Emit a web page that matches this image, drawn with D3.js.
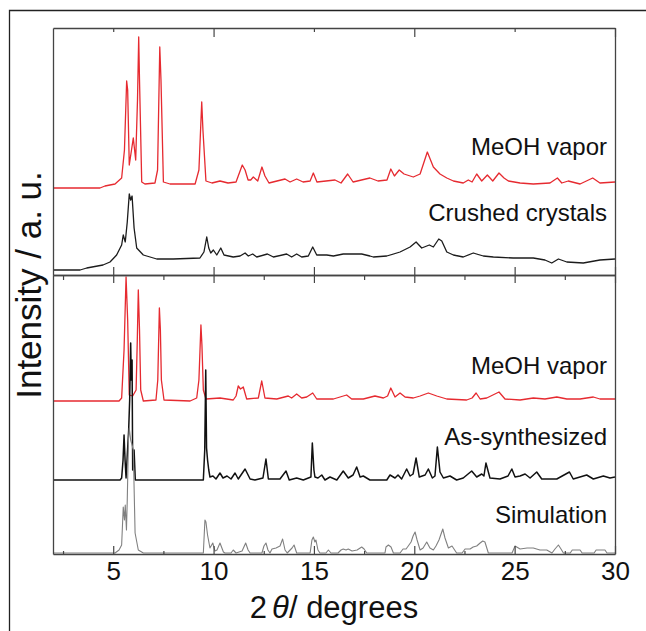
<!DOCTYPE html>
<html>
<head>
<meta charset="utf-8">
<script src="https://cdn.jsdelivr.net/npm/d3@7"></script>
<style>
  body { margin: 0; background: #fff; }
  text { font-family: "Liberation Sans", Arial, sans-serif; fill: #111; }
</style>
</head>
<body>
<script>
// [2theta, intensity], each trace relative to its own baseline
const meohUpper = [[2.00,0],[4.34,0],[4.59,2],[5.09,4],[5.42,10],[5.56,38],[5.67,107],[5.72,98],[5.80,23],[6.00,50],[6.12,28],[6.21,88],[6.27,151],[6.31,108],[6.42,6],[6.58,4],[7.08,5],[7.21,18],[7.32,141],[7.38,108],[7.50,6],[7.83,4],[9.08,4],[9.27,18],[9.41,86],[9.47,58],[9.62,7],[9.92,5],[10.32,7],[10.72,5],[11.12,6],[11.43,23],[11.57,18],[11.72,8],[11.85,8],[11.98,11],[12.20,7],[12.41,21],[12.56,12],[12.76,5],[13.56,9],[13.81,6],[14.14,9],[14.46,6],[14.81,7],[14.97,15],[15.15,6],[16.05,8],[16.35,5],[16.68,14],[16.95,6],[17.79,10],[18.19,7],[18.64,8],[18.83,19],[19.01,12],[19.25,18],[19.49,14],[19.95,11],[20.29,14],[20.65,36],[20.95,21],[21.28,14],[21.62,10],[21.95,7],[22.44,5],[22.69,8],[22.88,6],[23.11,14],[23.36,7],[23.64,13],[23.91,7],[24.22,15],[24.47,10],[24.69,7],[25.27,5],[25.93,4],[26.76,5],[27.13,10],[27.35,5],[27.67,7],[28.26,4],[28.89,10],[29.25,5],[30.00,6]];

const crushed = [[2.00,5],[3.35,5],[3.68,7],[4.49,10],[4.84,13],[5.17,20],[5.42,30],[5.50,40],[5.60,33],[5.70,53],[5.80,81],[5.87,75],[5.94,79],[6.04,47],[6.17,27],[6.50,20],[7.17,16],[7.99,16],[9.32,17],[9.52,23],[9.66,38],[9.76,27],[9.86,22],[9.99,25],[10.16,20],[10.36,27],[10.52,20],[10.98,18],[11.32,19],[11.57,22],[11.73,19],[11.95,21],[12.15,18],[12.68,21],[12.98,18],[13.64,21],[13.89,18],[14.14,21],[14.39,18],[14.72,19],[14.94,28],[15.14,20],[15.64,20],[15.97,19],[16.46,21],[16.96,21],[17.38,21],[17.79,19],[17.96,18],[18.63,19],[19.29,23],[19.79,28],[20.09,33],[20.37,27],[20.75,30],[20.95,28],[21.22,36],[21.37,34],[21.62,23],[21.95,20],[22.44,18],[22.94,22],[23.44,19],[23.94,18],[24.93,17],[25.93,17],[26.51,15],[26.85,12],[27.18,16],[27.60,13],[28.42,12],[29.25,15],[30.00,16]];

const meohLower = [[2.00,0],[5.29,0],[5.42,3],[5.54,51],[5.64,124],[5.72,81],[5.80,6],[5.97,5],[6.14,11],[6.20,61],[6.25,111],[6.31,71],[6.37,11],[6.50,0],[7.13,1],[7.22,21],[7.30,93],[7.35,71],[7.40,21],[7.53,1],[8.83,0],[9.16,3],[9.27,21],[9.37,76],[9.42,56],[9.49,11],[9.62,2],[10.32,3],[10.98,1],[11.12,5],[11.23,15],[11.34,12],[11.48,14],[11.65,2],[12.23,3],[12.40,20],[12.56,3],[13.15,2],[13.72,5],[13.89,3],[14.14,7],[14.39,3],[14.64,4],[14.94,8],[15.14,2],[15.97,2],[16.63,6],[16.88,2],[17.46,2],[18.04,5],[18.46,3],[18.67,5],[18.83,13],[19.04,4],[19.29,8],[19.54,4],[19.95,3],[20.29,5],[20.70,8],[21.12,5],[21.62,2],[22.61,1],[22.88,3],[23.08,8],[23.28,2],[23.61,3],[24.22,9],[24.52,2],[25.27,1],[25.93,3],[26.51,2],[27.10,4],[27.60,2],[28.26,2],[28.92,4],[29.25,2],[30.00,2]];

const asSynth = [[2.00,0],[5.34,0],[5.42,2],[5.49,20],[5.54,45],[5.59,20],[5.64,2],[5.70,25],[5.77,50],[5.82,80],[5.87,137],[5.90,100],[5.94,120],[5.97,10],[6.04,30],[6.10,0],[9.49,0],[9.56,30],[9.61,110],[9.65,32],[9.70,20],[9.76,10],[9.82,3],[9.97,4],[10.12,1],[10.32,7],[10.47,2],[10.67,4],[10.87,1],[11.07,7],[11.23,1],[11.57,11],[11.82,1],[12.06,0],[12.46,2],[12.61,21],[12.73,1],[13.31,1],[13.61,9],[13.77,0],[14.14,2],[14.47,0],[14.85,3],[14.92,37],[15.00,10],[15.05,3],[15.20,2],[15.39,5],[15.55,0],[15.80,3],[16.14,0],[16.46,9],[16.71,2],[16.95,5],[17.13,13],[17.30,3],[17.46,4],[17.79,0],[18.63,0],[18.79,5],[19.04,2],[19.19,5],[19.37,1],[19.62,11],[19.79,4],[19.94,6],[20.09,22],[20.25,3],[20.54,5],[20.70,11],[20.90,2],[21.03,4],[21.15,33],[21.28,8],[21.45,2],[21.78,4],[22.11,0],[22.44,2],[22.86,9],[23.11,3],[23.36,6],[23.47,4],[23.57,17],[23.77,2],[24.27,1],[24.67,4],[24.86,11],[25.02,3],[25.27,4],[25.52,6],[25.77,2],[26.10,8],[26.35,1],[27.10,1],[27.73,8],[27.92,1],[28.59,5],[28.92,1],[29.42,4],[29.75,2],[30.00,3]];

const simulation = [[2.00,0],[5.09,0],[5.29,3],[5.42,8],[5.50,46],[5.56,33],[5.60,48],[5.66,23],[5.70,53],[5.76,113],[5.80,125],[5.87,113],[5.94,108],[6.00,103],[6.09,20],[6.25,3],[6.50,0],[9.49,0],[9.57,33],[9.62,31],[9.70,18],[9.82,5],[9.96,10],[10.07,2],[10.17,3],[10.32,10],[10.49,1],[10.57,0],[10.87,0],[10.98,3],[11.12,0],[11.42,2],[11.60,10],[11.72,3],[11.82,0],[12.41,0],[12.51,7],[12.61,10],[12.71,3],[12.81,0],[12.91,4],[13.11,5],[13.31,7],[13.44,14],[13.56,3],[13.67,0],[13.91,5],[14.01,8],[14.14,0],[14.81,0],[14.90,13],[14.97,16],[15.05,11],[15.10,13],[15.20,3],[15.30,0],[15.60,0],[15.72,3],[15.85,0],[16.20,0],[16.35,3],[16.46,4],[16.60,3],[16.71,4],[16.90,2],[17.15,3],[17.38,6],[17.50,4],[17.63,0],[18.54,0],[18.59,6],[18.71,8],[18.84,6],[18.96,0],[19.29,0],[19.44,4],[19.59,4],[19.70,7],[19.84,11],[19.94,17],[20.04,21],[20.14,13],[20.29,3],[20.44,5],[20.62,11],[20.78,5],[20.95,3],[21.08,7],[21.23,13],[21.42,24],[21.53,15],[21.70,5],[21.88,7],[22.11,0],[22.38,0],[22.53,4],[22.78,4],[22.93,6],[23.11,7],[23.28,10],[23.41,12],[23.52,11],[23.69,0],[24.87,0],[25.02,7],[25.27,4],[25.62,5],[25.93,5],[26.26,3],[26.60,3],[26.86,0],[27.01,4],[27.18,8],[27.31,4],[27.43,0],[27.77,0],[27.87,3],[28.26,3],[28.36,0],[28.96,0],[29.06,3],[29.50,3],[29.60,0],[30.00,0]];

const xTicks = [5, 10, 15, 20, 25, 30];
const xMinor = [2.5, 7.5, 12.5, 17.5, 22.5, 27.5];

const W = 646, H = 631;
const pLeft = 53, pRight = 615, pTop = 28, pMid = 275, pBottom = 554;

const svg = d3.select("body").append("svg")
  .attr("width", W)
  .attr("height", H);

// outer frame (only top and left edges visible in the reference)
svg.append("path")
  .attr("d", `M9.5,${H} L9.5,10.5 L${W},10.5`)
  .attr("fill", "none").attr("stroke", "#222").attr("stroke-width", 1.3);

const x = d3.scaleLinear().domain([2, 30]).range([pLeft, pRight]);
const yUp = d3.scaleLinear().domain([0, pMid - pTop]).range([pMid, pTop]);
const yLo = d3.scaleLinear().domain([0, pBottom - pMid]).range([pBottom, pMid]);

function trace(data, y, offset, color, w) {
  const line = d3.line()
    .x(d => x(d[0]))
    .y(d => y(d[1] + offset));
  svg.append("path")
    .datum(data)
    .attr("d", line)
    .attr("fill", "none")
    .attr("stroke", color)
    .attr("stroke-width", w)
    .attr("stroke-linejoin", "round");
}

// upper panel
trace(meohUpper, yUp, 87, "#e62a30", 1.3);
trace(crushed, yUp, 0, "#1c1c1c", 1.3);
// lower panel
trace(meohLower, yLo, 153, "#e62a30", 1.3);
trace(asSynth, yLo, 74, "#111", 1.5);
trace(simulation, yLo, 1, "#808080", 1.1);

// axes
const axisColor = "#444";
function hAxis(axisFn, yPos, major, minor, majorLen, minorLen, labels) {
  const g = svg.append("g").attr("transform", `translate(0,${yPos})`)
    .call(axisFn(x).tickValues(major).tickSizeInner(majorLen).tickSizeOuter(0)
      .tickFormat(labels ? d3.format("d") : ""));
  g.select(".domain").attr("stroke", axisColor).attr("stroke-width", 1.3);
  g.selectAll(".tick line").attr("stroke", axisColor).attr("stroke-width", 1.2);
  if (minor.length) {
    const m = svg.append("g").attr("transform", `translate(0,${yPos})`)
      .call(axisFn(x).tickValues(minor).tickSizeInner(minorLen).tickSizeOuter(0).tickFormat(""));
    m.select(".domain").remove();
    m.selectAll(".tick line").attr("stroke", axisColor).attr("stroke-width", 1.2);
  }
  return g;
}

// top of upper panel: long ticks at 10s, short at odd 5s
hAxis(d3.axisTop, pTop, [10, 20, 30], [5, 15, 25], -9, -4, false);
// divider: ticks up into the upper panel and down into the lower one
hAxis(d3.axisBottom, pMid, xTicks, [], -8, 0, false);
hAxis(d3.axisTop, pMid, xTicks, xMinor, -8, -5, false);
// bottom axis with labels
const bx = hAxis(d3.axisBottom, pBottom, xTicks, xMinor, -8, -3, true);
bx.selectAll(".tick text")
  .attr("y", 26)
  .attr("dy", 0)
  .attr("fill", "#111")
  .style("font-size", "26px")
  .style("font-family", "'Liberation Sans', Arial, sans-serif");

// vertical frame lines
[[pTop, pMid], [pMid, pBottom]].forEach(([a, b]) => {
  const yy = d3.scaleLinear().domain([0, 1]).range([b, a]);
  [[d3.axisLeft, pLeft], [d3.axisRight, pRight]].forEach(([fn, xp]) => {
    const g = svg.append("g").attr("transform", `translate(${xp},0)`)
      .call(fn(yy).tickValues([]).tickSizeOuter(0));
    g.select(".domain").attr("stroke", axisColor).attr("stroke-width", 1.3);
  });
});

// series labels
const seriesLabels = [
  { text: "MeOH vapor", y: 155 },
  { text: "Crushed crystals", y: 221 },
  { text: "MeOH vapor", y: 374 },
  { text: "As-synthesized", y: 445 },
  { text: "Simulation", y: 523 }
];
svg.selectAll(".slabel").data(seriesLabels).enter().append("text")
  .attr("class", "slabel")
  .attr("x", 607)
  .attr("y", d => d.y)
  .attr("text-anchor", "end")
  .style("font-size", "24px")
  .text(d => d.text);

// axis titles
const xt = svg.append("text")
  .attr("x", (pLeft + pRight) / 2)
  .attr("y", 618)
  .attr("text-anchor", "middle")
  .style("font-size", "31px");
xt.append("tspan").text("2");
xt.append("tspan").attr("dx", 5).style("font-style", "italic").text("θ");
xt.append("tspan").text("/ degrees");

svg.append("text")
  .attr("transform", `translate(41,${(pTop + pBottom) / 2 - 6}) rotate(-90)`)
  .attr("text-anchor", "middle")
  .style("font-size", "35px")
  .text("Intensity / a. u.");
</script>
</body>
</html>
